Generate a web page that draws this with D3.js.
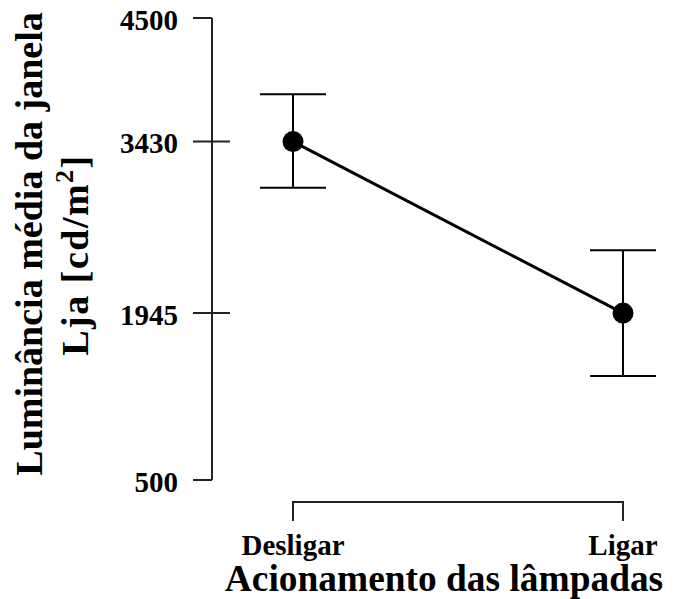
<!DOCTYPE html>
<html><head><meta charset="utf-8">
<script src="https://cdn.jsdelivr.net/npm/d3@7"></script>
<style>body{margin:0;background:#fff}svg{display:block}</style>
</head><body>
<script>
const categories = ["Desligar", "Ligar"];
const means = [3430, 1945];
const upper = [3840, 2490];
const lower = [3030, 1400];
const yTicks = [500, 1945, 3430, 4500];
const yDomain = [500, 4500];
const xTitle = "Acionamento das lâmpadas";
const yTitle1 = "Luminância média da janela";
const yTitle2a = "Lja [cd/m";
const yTitle2sup = "2";
const yTitle2b = "]";

const W = 676, H = 599;
const FONT = "'Liberation Serif', 'Times New Roman', Times, serif";
const svg = d3.select("body").append("svg").attr("width", W).attr("height", H)
  .attr("font-family", FONT).attr("font-weight", "bold");

const y = d3.scaleLinear().domain(yDomain).range([480, 18]);
const x = d3.scalePoint().domain(categories).range([293, 623]);
const axisX = 212;

svg.append("line").attr("x1", axisX).attr("x2", axisX).attr("y1", y(yDomain[1])).attr("y2", y(yDomain[0]))
  .attr("stroke", "#222").attr("stroke-width", 2);
yTicks.forEach(t => {
  const isEnd = (t === yDomain[0] || t === yDomain[1]);
  svg.append("line").attr("x1", 193).attr("x2", isEnd ? axisX : 230)
    .attr("y1", y(t)).attr("y2", y(t)).attr("stroke", "#222").attr("stroke-width", 2);
  svg.append("text").attr("x", 178).attr("y", y(t)).attr("dy", "0.4em")
    .attr("text-anchor", "end").attr("font-size", 29).text(t);
});

const xb = 502;
svg.append("path")
  .attr("d", `M${x(categories[0])},${xb + 19}V${xb}H${x(categories[1])}V${xb + 19}`)
  .attr("fill", "none").attr("stroke", "#222").attr("stroke-width", 2);
categories.forEach(c => {
  svg.append("text").attr("x", x(c)).attr("y", 555).attr("text-anchor", "middle")
    .attr("font-size", 29).text(c);
});

svg.append("text").attr("x", 444).attr("y", 591).attr("text-anchor", "middle")
  .attr("font-size", 37.4).text(xTitle);
svg.append("text").attr("transform", "translate(42,244) rotate(-90)").attr("text-anchor", "middle")
  .attr("font-size", 38).text(yTitle1);
const t2 = svg.append("text").attr("transform", "translate(88,255) rotate(-90)").attr("text-anchor", "middle")
  .attr("font-size", 38).attr("letter-spacing", 1.5);
t2.append("tspan").text(yTitle2a);
t2.append("tspan").attr("font-size", 26).attr("dy", -15).text(yTitle2sup);
t2.append("tspan").attr("dy", 15).text(yTitle2b);

const capHalf = 33;
categories.forEach((c, i) => {
  const cx = x(c);
  svg.append("line").attr("x1", cx).attr("x2", cx).attr("y1", y(upper[i])).attr("y2", y(lower[i]))
    .attr("stroke", "#000").attr("stroke-width", 2);
  [upper[i], lower[i]].forEach(v => {
    svg.append("line").attr("x1", cx - capHalf).attr("x2", cx + capHalf).attr("y1", y(v)).attr("y2", y(v))
      .attr("stroke", "#000").attr("stroke-width", 2);
  });
});

svg.append("path").datum(means)
  .attr("d", d3.line().x((d, i) => x(categories[i])).y(d => y(d)))
  .attr("fill", "none").attr("stroke", "#000").attr("stroke-width", 3);

svg.selectAll("circle.pt").data(means).join("circle")
  .attr("cx", (d, i) => x(categories[i])).attr("cy", d => y(d)).attr("r", 10.5).attr("fill", "#000");
</script>
</body></html>
